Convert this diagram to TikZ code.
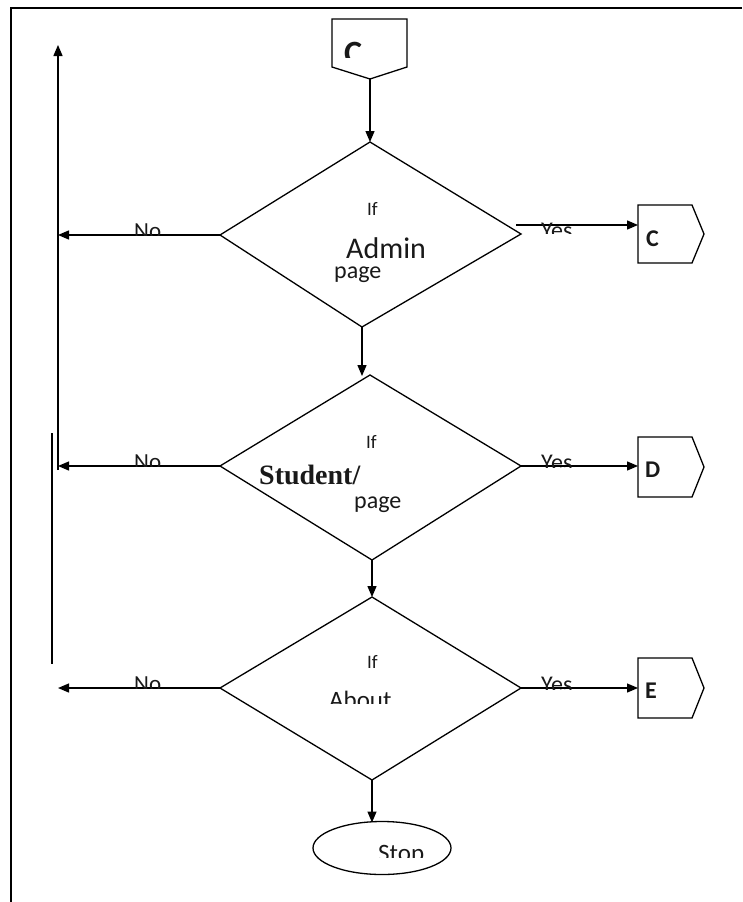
\documentclass[tikz,border=0pt]{standalone}
\usepackage{fontspec}
\setmainfont{Carlito}
\newfontfamily\tnr{Liberation Serif}
\usetikzlibrary{arrows.meta,shapes.geometric}
\tikzset{
 ln/.style={line width=1.3pt},
 arr/.style={ln,-{Triangle[length=11pt,width=9pt]}},
 shp/.style={ln,line join=miter},
 lbl/.style={inner sep=0pt,anchor=base west,text=black!90},
 fs/.style={font=\fontsize{#1}{#1}\selectfont},
 fsb/.style={font=\bfseries\fontsize{#1}{#1}\selectfont},
}
\begin{document}
\begin{tikzpicture}[x=1pt,y=-1pt]
\useasboundingbox (0,0) rectangle (742,902);
\fill[white] (0,0) rectangle (742,902);
% frame
\draw[line width=2.2pt] (11,902) -- (11,8) -- (742,8);

% top off-page connector
\coordinate (topc) at (370,79);
\draw[shp] (332,19) -- (407,19) -- (407,67) -- (topc) -- (332,67) -- cycle;
\begin{scope}
\clip (340,30) rectangle (380,57);
\node[lbl,fsb=34] (ctop) at (344,64) {C};
\end{scope}

% diamond 1
\coordinate (d1t) at (370,142);
\coordinate (d1r) at (521,234);
\coordinate (d1b) at (362,327);
\coordinate (d1l) at (220,235);
\draw[shp] (d1t) -- (d1r) -- (d1b) -- (d1l) -- cycle;

% diamond 2
\coordinate (d2t) at (370,375);
\coordinate (d2r) at (521,466);
\coordinate (d2b) at (372,560);
\coordinate (d2l) at (220,466);
\draw[shp] (d2t) -- (d2r) -- (d2b) -- (d2l) -- cycle;

% diamond 3
\coordinate (d3t) at (372,597);
\coordinate (d3r) at (521,688);
\coordinate (d3b) at (372,780);
\coordinate (d3l) at (220,688);
\draw[shp] (d3t) -- (d3r) -- (d3b) -- (d3l) -- cycle;

% off-page connectors C, D, E
\coordinate (cw) at (638,225);
\draw[shp] (638,205) -- (692,205) -- (704,234) -- (692,263) -- (638,263) -- cycle;
\node[lbl,fsb=24] (cl) at (646,246) {C};
\coordinate (dw) at (638,466);
\draw[shp] (638,437) -- (692,437) -- (704,467) -- (692,497) -- (638,497) -- cycle;
\node[lbl,fsb=24] (dl) at (645,477) {D};
\coordinate (ew) at (638,688);
\draw[shp] (638,658) -- (692,658) -- (704,688) -- (692,718) -- (638,718) -- cycle;
\node[lbl,fsb=24] (el) at (645,698) {E};

% stop
\node[draw,ln,ellipse,minimum width=138pt,minimum height=53pt,inner sep=0pt] (stop) at (382,848) {};
\coordinate (stopt) at (372,822.5);

% left return line
\coordinate (lb1) at (58,235);
\coordinate (lb2) at (58,466);
\coordinate (lb3) at (58,688);
\coordinate (lbot) at (58,470);
\coordinate (ltop) at (58,45);
\coordinate (l2a) at (52,433);
\coordinate (l2b) at (52,664);
\draw[arr] (lbot) -- (ltop);
\draw[ln] (l2a) -- (l2b);

% connectors
\coordinate (y1s) at (516,225);
\coordinate (d2in) at (362,376);
\draw[arr] (topc) -- (d1t);
\draw[arr] (y1s) -- (cw);
\draw[arr] (d1l) -- (lb1);
\draw[arr] (d1b) -- (d2in);
\draw[arr] (d2l) -- (lb2);
\draw[arr] (d2r) -- (dw);
\draw[arr] (d2b) -- (d3t);
\draw[arr] (d3l) -- (lb3);
\draw[arr] (d3r) -- (ew);
\draw[arr] (d3b) -- (stopt);

% diamond texts
\node[lbl,fs=19] (if1) at (367,215) {If};
\node[lbl,fs=30] (adm) at (346,258) {Admin};
\node[lbl,fs=24] (pg1) at (334,278) {page};
\node[lbl,fs=19] (if2) at (366,448) {If};
\node[lbl,font=\tnr\bfseries\fontsize{28}{28}\selectfont] (stu) at (259,484) {Student/};
\node[lbl,fs=24] (pg2) at (354,508) {page};
\node[lbl,fs=19] (if3) at (367,668) {If};
\begin{scope}
\clip (320,680) rectangle (400,703);
\node[lbl,fs=25] (abt) at (329,708) {About};
\end{scope}
\begin{scope}
\clip (370,835) rectangle (440,857);
\node[lbl,fs=25] (stp) at (378,861) {Stop};
\end{scope}

% No labels
\begin{scope}
\clip (120,210) rectangle (190,235);
\node[lbl,fs=23] (no1) at (134,238) {No};
\end{scope}
\begin{scope}
\clip (120,440) rectangle (190,466);
\node[lbl,fs=23] (no2) at (134,469) {No};
\end{scope}
\begin{scope}
\clip (120,660) rectangle (190,688);
\node[lbl,fs=23] (no3) at (134,691) {No};
\end{scope}

% Yes labels
\begin{scope}
\clip (530,210) rectangle (600,233);
\node[lbl,fs=24] (ye1) at (541,238.5) {Yes};
\end{scope}
\begin{scope}
\clip (530,440) rectangle (600,467);
\node[lbl,fs=24] (ye2) at (541,470.5) {Yes};
\end{scope}
\begin{scope}
\clip (530,660) rectangle (600,689);
\node[lbl,fs=24] (ye3) at (541,692.5) {Yes};
\end{scope}
\end{tikzpicture}
\end{document}
